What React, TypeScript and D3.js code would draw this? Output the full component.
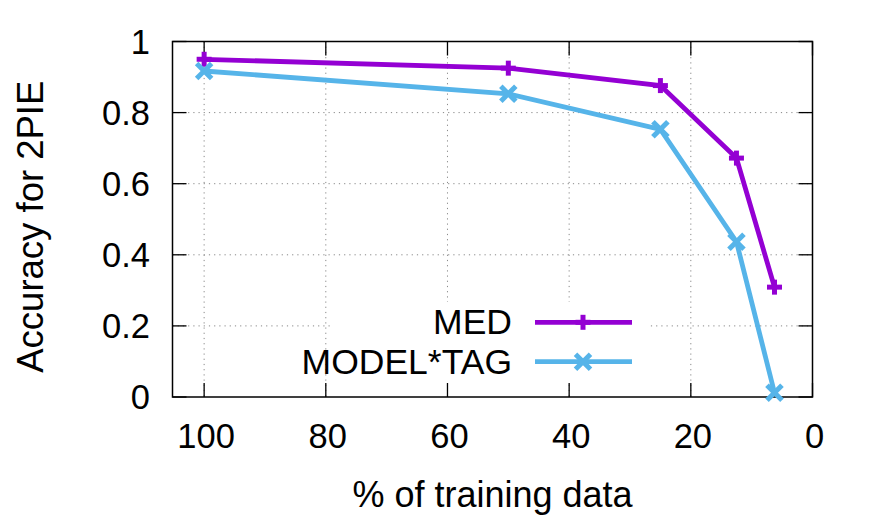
import React from "react";
import * as d3 from "d3";

const pct = [100, 50, 25, 12.5, 6.25];
const medValues = [0.95, 0.925, 0.876, 0.672, 0.309];
const modelTagValues = [0.917, 0.853, 0.753, 0.437, 0.012];
const seriesNames = ["MED", "MODEL*TAG"];
const seriesColors = ["#9400d3", "#56b4e9"];
const xTicks = [100, 80, 60, 40, 20, 0];
const yTicks = [0, 0.2, 0.4, 0.6, 0.8, 1];
const xLabel = "% of training data";
const yLabel = "Accuracy for 2PIE";

const W = 872;
const H = 523;
const L = 172.5, R = 812.5, T = 41.5, B = 397;
const FONT = "'Liberation Sans', Arial, Helvetica, sans-serif";

export default function App() {
  const x = d3.scaleLinear().domain([105.2, 0]).range([L, R]);
  const y = d3.scaleLinear().domain([0, 1]).range([B, T]);
  const line = d3.line<[number, number]>().x((d) => x(d[0])).y((d) => y(d[1]));
  const series = [medValues, modelTagValues].map((vals) => pct.map((p, i) => [p, vals[i]] as [number, number]));
  const tickLen = 14;

  const plus = (cx: number, cy: number, s: number, color: string, key: string) => (
    <g key={key} stroke={color} strokeWidth={5} strokeLinecap="butt">
      <line x1={cx - s} y1={cy} x2={cx + s} y2={cy} />
      <line x1={cx} y1={cy - s} x2={cx} y2={cy + s} />
    </g>
  );
  const cross = (cx: number, cy: number, s: number, color: string, key: string) => (
    <g key={key} stroke={color} strokeWidth={5} strokeLinecap="butt">
      <line x1={cx - s} y1={cy - s} x2={cx + s} y2={cy + s} />
      <line x1={cx - s} y1={cy + s} x2={cx + s} y2={cy - s} />
    </g>
  );
  const marker = (si: number, cx: number, cy: number, key: string) =>
    si === 0 ? plus(cx, cy, 7.5, seriesColors[si], key) : cross(cx, cy, 7.5, seriesColors[si], key);

  const legendY = [322.3, 361.7];

  return (
    <svg width={W} height={H} style={{ position: "absolute", left: 0, top: 0, background: "#fff" }}>
      <rect x={0} y={0} width={W} height={H} fill="#fff" />
      {/* grid */}
      <g stroke="#888" strokeWidth={1} strokeDasharray="1.2,4">
        {xTicks.filter((t) => t !== 0).map((t) => (
          <line key={"gx" + t} x1={x(t)} x2={x(t)} y1={T} y2={B} />
        ))}
        {yTicks.filter((t) => t !== 0 && t !== 1).map((t) => (
          <line key={"gy" + t} x1={L} x2={R} y1={y(t)} y2={y(t)} />
        ))}
      </g>
      {/* ticks */}
      <g stroke="#000" strokeWidth={1.3}>
        {xTicks.map((t) => (
          <g key={"tx" + t}>
            <line x1={x(t)} x2={x(t)} y1={B} y2={B - tickLen} />
            <line x1={x(t)} x2={x(t)} y1={T} y2={T + tickLen} />
          </g>
        ))}
        {yTicks.map((t) => (
          <g key={"ty" + t}>
            <line x1={L} x2={L + tickLen} y1={y(t)} y2={y(t)} />
            <line x1={R} x2={R - tickLen} y1={y(t)} y2={y(t)} />
          </g>
        ))}
      </g>
      <rect x={L} y={T} width={R - L} height={B - T} fill="none" stroke="#000" strokeWidth={1.5} />
      {/* tick labels */}
      <g fontFamily={FONT} fontSize={34.5} fill="#000">
        {xTicks.map((t) => (
          <text key={"lx" + t} x={x(t) + 2} y={448} textAnchor="middle">{String(t)}</text>
        ))}
        {yTicks.map((t) => (
          <text key={"ly" + t} x={150} y={y(t) + 12.4} textAnchor="end">{d3.format("~g")(t)}</text>
        ))}
      </g>
      <text x={492.5} y={506.5} textAnchor="middle" fontFamily={FONT} fontSize={36}>{xLabel}</text>
      <text transform="translate(42.7,226.7) rotate(-90)" textAnchor="middle" fontFamily={FONT} fontSize={36.5}>{yLabel}</text>
      {/* series */}
      {series.map((pts, si) => (
        <g key={"s" + si}>
          <path d={line(pts) || ""} fill="none" stroke={seriesColors[si]} strokeWidth={4.8} strokeLinejoin="miter" />
          {pts.map((p, i) => marker(si, x(p[0]), y(p[1]), "m" + si + "-" + i))}
        </g>
      ))}
      {/* legend */}
      <rect x={330} y={302} width={320} height={79} fill="#fff" />
      {seriesNames.map((name, si) => (
        <g key={"lg" + si}>
          <text x={512} y={legendY[si] + 12} textAnchor="end" fontFamily={FONT} fontSize={35.5}>{name}</text>
          <line x1={535} x2={632} y1={legendY[si]} y2={legendY[si]} stroke={seriesColors[si]} strokeWidth={4.8} />
          {marker(si, 583, legendY[si], "lm" + si)}
        </g>
      ))}
    </svg>
  );
}
